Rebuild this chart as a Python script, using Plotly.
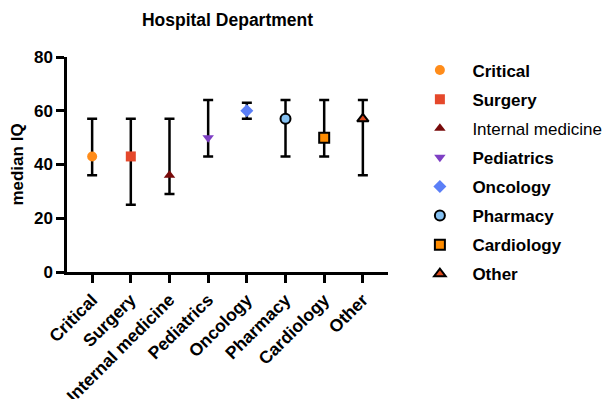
import plotly.graph_objects as go

categories = ["Critical", "Surgery", "Internal medicine", "Pediatrics",
              "Oncology", "Pharmacy", "Cardiology", "Other"]
median_iq = [43, 43, 36, 50, 60, 57, 50, 57]
lower_iq = [36, 25, 29, 43, 57, 43, 43, 36]
upper_iq = [57, 57, 57, 64, 63, 64, 64, 64]

symbols = ["circle", "square", "triangle-up", "triangle-down",
           "diamond", "circle", "square", "triangle-up"]
fills = ["#FF8C1A", "#E5482B", "#780A0A", "#7E3FC4",
         "#5B7FF7", "#85C1F2", "#FF8C00", "#DE4A1C"]
edges = [None, None, None, None, None, "black", "black", "black"]
legend_bold = [True, True, False, True, True, True, True, True]

FONT = "Liberation Sans, Arial, sans-serif"

fig = go.Figure()
for i, cat in enumerate(categories):
    name = f"<b>{cat}</b>" if legend_bold[i] else cat
    line = dict(color=edges[i], width=2) if edges[i] else dict(width=0)
    fig.add_trace(go.Scatter(
        x=[cat], y=[median_iq[i]], mode="markers", name=name,
        legendgroup=cat,
        marker=dict(symbol=symbols[i], color=fills[i], size=10, line=line),
        error_y=dict(type="data", symmetric=False,
                     array=[upper_iq[i] - median_iq[i]],
                     arrayminus=[median_iq[i] - lower_iq[i]],
                     color="black", thickness=2.5, width=5),
    ))

fig.update_layout(
    width=606, height=399,
    paper_bgcolor="white", plot_bgcolor="white",
    margin=dict(l=67, r=218, t=57, b=127, autoexpand=False),
    font=dict(family=FONT, color="black", size=17),
    title=dict(text="<b>Hospital Department</b>", x=0.5, xref="paper",
               xanchor="center", y=0.95, yanchor="middle",
               font=dict(size=17.5)),
    xaxis=dict(type="category", categoryorder="array", categoryarray=categories,
               range=[-0.65, 7.65], showgrid=False, zeroline=False,
               showline=True, linecolor="black", linewidth=2.5,
               ticks="outside", ticklen=8, tickwidth=2.5, tickcolor="black",
               tickangle=-45, tickfont=dict(size=17.5, weight="bold")),
    yaxis=dict(range=[0, 80], tickvals=[0, 20, 40, 60, 80], showgrid=False,
               zeroline=False, showline=True, linecolor="black", linewidth=2.5,
               ticks="outside", ticklen=8, tickwidth=2.5, tickcolor="black",
               tickfont=dict(size=17, weight="bold"),
               title=dict(text="<b>median IQ</b>", font=dict(size=17), standoff=6)),
    legend=dict(x=1.0604, xanchor="left", y=1.021, yanchor="top",
                font=dict(size=17), tracegroupgap=4, itemwidth=55,
                maxheight=1.0, bgcolor="rgba(0,0,0,0)"),
    showlegend=True,
)

fig.write_html("out.html")
